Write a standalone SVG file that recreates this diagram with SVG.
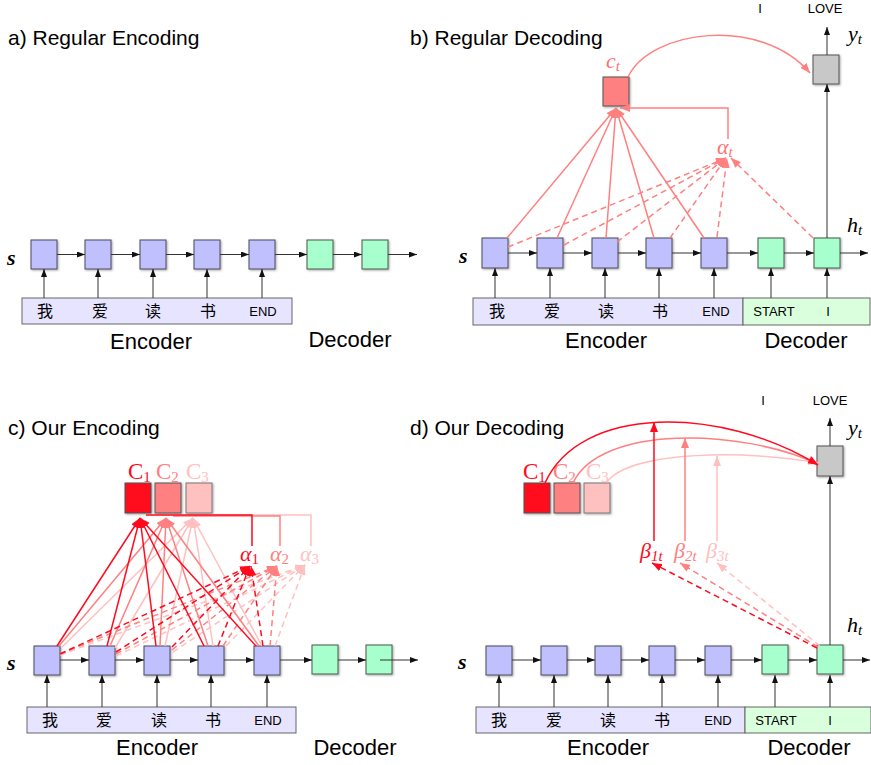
<svg xmlns="http://www.w3.org/2000/svg" width="871" height="765" viewBox="0 0 871 765">
<defs>
<style>
.t{font-family:"Liberation Sans",Arial,sans-serif;fill:#000}
.title{font-size:21px}
.lab{font-size:22px;text-anchor:middle}
.zh{font-family:"Noto Sans CJK SC","Liberation Sans",sans-serif;font-size:16px;text-anchor:middle;fill:#000}
.sm{font-family:"Liberation Sans",Arial,sans-serif;font-size:13px;text-anchor:middle;fill:#000}
.m{font-family:"Liberation Serif","DejaVu Serif",serif;font-style:italic}
.mu{font-family:"Liberation Serif","DejaVu Serif",serif}
.enc{fill:#c0c0ff;stroke:#4a4a5a;stroke-width:1;filter:url(#sh)}
.dec{fill:#a6ffcc;stroke:#4a5a4a;stroke-width:1;filter:url(#sh)}
.gry{fill:#c8c8c8;stroke:#555;stroke-width:1;filter:url(#sh)}
.bar{fill:#e6e4ff;stroke:#666;stroke-width:1}
.gbar{fill:#d9ffdc;stroke:#666;stroke-width:1}
.k{stroke:#333;stroke-width:1;fill:none;marker-end:url(#ak)}
.r1{stroke:#ff0a1e;stroke-width:1.5;fill:none;marker-end:url(#a1)}
.r2{stroke:#ff8080;stroke-width:1.5;fill:none;marker-end:url(#a2)}
.r3{stroke:#ffc0c0;stroke-width:1.5;fill:none;marker-end:url(#a3)}
.n1{stroke:#ff0a1e;stroke-width:1.5;fill:none}
.n2{stroke:#ff8080;stroke-width:1.5;fill:none}
.n3{stroke:#ffc0c0;stroke-width:1.5;fill:none}
.d{stroke-dasharray:6,4}
</style>
<filter id="sh" x="-20%" y="-20%" width="150%" height="150%">
<feDropShadow dx="1" dy="1" stdDeviation="0.8" flood-color="#000" flood-opacity="0.35"/>
</filter>
<marker id="ak" markerUnits="userSpaceOnUse" markerWidth="8" markerHeight="6" refX="8" refY="3" orient="auto"><path d="M0,0 L8,3 L0,6 z" fill="#111"/></marker>
<marker id="a1" markerUnits="userSpaceOnUse" markerWidth="10" markerHeight="8" refX="10" refY="4" orient="auto"><path d="M0,0 L10,4 L0,8 z" fill="#ff0a1e"/></marker>
<marker id="a2" markerUnits="userSpaceOnUse" markerWidth="10" markerHeight="8" refX="10" refY="4" orient="auto"><path d="M0,0 L10,4 L0,8 z" fill="#ff8080"/></marker>
<marker id="a3" markerUnits="userSpaceOnUse" markerWidth="10" markerHeight="8" refX="10" refY="4" orient="auto"><path d="M0,0 L10,4 L0,8 z" fill="#ffc0c0"/></marker>
</defs>
<rect width="871" height="765" fill="#fff"/>

<!-- ============ Panel a ============ -->
<g id="panel-a">
<text class="t title" x="8" y="45">a) Regular Encoding</text>
<text class="m" x="7" y="265" font-size="22" font-weight="bold">s</text>
<g id="a-input"><rect class="bar" x="22" y="298" width="270" height="26"/>
<text class="zh" x="45" y="317">我</text><text class="zh" x="100" y="317">爱</text><text class="zh" x="153" y="317">读</text><text class="zh" x="208" y="317">书</text><text class="sm" x="263" y="316">END</text></g>
<g id="a-e1"><rect class="enc" x="31" y="240" width="26" height="29"/></g>
<g id="a-e2"><rect class="enc" x="85" y="240" width="26" height="29"/></g>
<g id="a-e3"><rect class="enc" x="140" y="240" width="26" height="29"/></g>
<g id="a-e4"><rect class="enc" x="194" y="240" width="26" height="29"/></g>
<g id="a-e5"><rect class="enc" x="249" y="240" width="26" height="29"/></g>
<g id="a-d1"><rect class="dec" x="307" y="240" width="26" height="29"/></g>
<g id="a-d2"><rect class="dec" x="362" y="240" width="26" height="29"/></g>
<text class="t lab" x="151" y="349">Encoder</text>
<text class="t lab" x="350" y="347">Decoder</text>
</g>
<g id="a-connectors">
<line class="k" x1="57" y1="254.5" x2="85" y2="254.5"/>
<line class="k" x1="111" y1="254.5" x2="140" y2="254.5"/>
<line class="k" x1="166" y1="254.5" x2="194" y2="254.5"/>
<line class="k" x1="220" y1="254.5" x2="249" y2="254.5"/>
<line class="k" x1="275" y1="254.5" x2="307" y2="254.5"/>
<line class="k" x1="333" y1="254.5" x2="362" y2="254.5"/>
<line class="k" x1="388" y1="254.5" x2="417" y2="254.5"/>
<line class="k" x1="44" y1="298" x2="44" y2="269"/>
<line class="k" x1="98" y1="298" x2="98" y2="269"/>
<line class="k" x1="153" y1="298" x2="153" y2="269"/>
<line class="k" x1="207" y1="298" x2="207" y2="269"/>
<line class="k" x1="262" y1="298" x2="262" y2="269"/>
</g>

<!-- ============ Panel b ============ -->
<g id="panel-b">
<text class="t title" x="410" y="45">b) Regular Decoding</text>
<text class="m" x="459" y="263" font-size="22" font-weight="bold">s</text>
<text class="sm" x="760" y="13">I</text><text class="sm" x="825" y="13">LOVE</text>
<text class="m" x="848" y="41" font-size="22">y<tspan font-size="15" dy="3">t</tspan></text>
<text class="m" x="847" y="232" font-size="22">h<tspan font-size="15" dy="3">t</tspan></text>
<g id="b-input"><rect class="bar" x="473" y="298" width="270" height="27"/><rect class="gbar" x="743" y="298" width="127" height="27"/>
<text class="zh" x="497" y="317">我</text><text class="zh" x="552" y="317">爱</text><text class="zh" x="606" y="317">读</text><text class="zh" x="660" y="317">书</text><text class="sm" x="716" y="316">END</text><text class="sm" x="774" y="316">START</text><text class="sm" x="828" y="316">I</text></g>
<g id="b-e1"><rect class="enc" x="482" y="238" width="26" height="30"/></g>
<g id="b-e2"><rect class="enc" x="537" y="238" width="26" height="30"/></g>
<g id="b-e3"><rect class="enc" x="592" y="238" width="26" height="30"/></g>
<g id="b-e4"><rect class="enc" x="646" y="238" width="26" height="30"/></g>
<g id="b-e5"><rect class="enc" x="701" y="238" width="26" height="30"/></g>
<g id="b-d1"><rect class="dec" x="758" y="238" width="26" height="30"/></g>
<g id="b-d2"><rect class="dec" x="814" y="238" width="26" height="30"/></g>
<g id="b-ct"><rect x="603" y="77" width="26" height="29" fill="#ff8080" stroke="#555" filter="url(#sh)"/>
<text class="m" x="606" y="68" font-size="22" fill="#ff7070">c<tspan font-size="15" dy="3">t</tspan></text></g>
<g id="b-at"><text class="m" x="717" y="154" font-size="22" fill="#ff7070">α<tspan font-size="15" dy="3">t</tspan></text></g>
<g id="b-y"><rect class="gry" x="813" y="55" width="26" height="29"/></g>
<text class="t lab" x="606" y="348">Encoder</text>
<text class="t lab" x="806" y="348">Decoder</text>
</g>
<g id="b-connectors">
<line class="k" x1="508" y1="253" x2="537" y2="253"/>
<line class="k" x1="563" y1="253" x2="592" y2="253"/>
<line class="k" x1="618" y1="253" x2="646" y2="253"/>
<line class="k" x1="672" y1="253" x2="701" y2="253"/>
<line class="k" x1="727" y1="253" x2="758" y2="253"/>
<line class="k" x1="784" y1="253" x2="814" y2="253"/>
<line class="k" x1="840" y1="253" x2="868" y2="253"/>
<line class="k" x1="495" y1="298" x2="495" y2="268"/>
<line class="k" x1="550" y1="298" x2="550" y2="268"/>
<line class="k" x1="605" y1="298" x2="605" y2="268"/>
<line class="k" x1="659" y1="298" x2="659" y2="268"/>
<line class="k" x1="714" y1="298" x2="714" y2="268"/>
<line class="k" x1="771" y1="298" x2="771" y2="268"/>
<line class="k" x1="827" y1="298" x2="827" y2="268"/>
<line class="k" x1="827" y1="238" x2="827" y2="84"/>
<line class="k" x1="827" y1="55" x2="827" y2="27"/>
<line class="r2" x1="507" y1="238" x2="616" y2="108"/>
<line class="r2" x1="557" y1="238" x2="616" y2="108"/>
<line class="r2" x1="606" y1="238" x2="616" y2="108"/>
<line class="r2" x1="654" y1="238" x2="616" y2="108"/>
<line class="r2" x1="704" y1="238" x2="616" y2="108"/>
<line class="r2 d" x1="508" y1="247" x2="726" y2="158"/>
<line class="r2 d" x1="564" y1="245" x2="726" y2="158"/>
<line class="r2 d" x1="617" y1="242" x2="726" y2="158"/>
<line class="r2 d" x1="670" y1="238" x2="726" y2="158"/>
<line class="r2 d" x1="717" y1="237" x2="727" y2="158"/>
<line class="r2 d" x1="813" y1="238" x2="731" y2="158"/>
<polyline class="r2" points="728,139 728,108 620,108"/>
<path class="r2" d="M628,77 C650,30 760,15 810,73"/>
</g>

<!-- ============ Panel c ============ -->
<g id="panel-c">
<text class="t title" x="8" y="435">c) Our Encoding</text>
<text class="m" x="7" y="670" font-size="22" font-weight="bold">s</text>
<g id="c-input"><rect class="bar" x="27" y="707" width="269" height="26"/>
<text class="zh" x="50" y="726">我</text><text class="zh" x="104" y="726">爱</text><text class="zh" x="159" y="726">读</text><text class="zh" x="213" y="726">书</text><text class="sm" x="268" y="725">END</text></g>
<g id="c-e1"><rect class="enc" x="34" y="646" width="26" height="29"/></g>
<g id="c-e2"><rect class="enc" x="89" y="646" width="26" height="29"/></g>
<g id="c-e3"><rect class="enc" x="144" y="646" width="26" height="29"/></g>
<g id="c-e4"><rect class="enc" x="198" y="646" width="26" height="29"/></g>
<g id="c-e5"><rect class="enc" x="254" y="646" width="26" height="29"/></g>
<g id="c-d1"><rect class="dec" x="312" y="645" width="26" height="29"/></g>
<g id="c-d2"><rect class="dec" x="366" y="645" width="26" height="29"/></g>
<g id="c-C1"><rect x="125" y="483" width="26" height="30" fill="#ff0a1e" stroke="#555" filter="url(#sh)"/><text class="mu" x="128" y="479" font-size="23" fill="#ff0a1e">C<tspan font-size="15" dy="3">1</tspan></text></g>
<g id="c-C2"><rect x="155" y="483" width="26" height="30" fill="#ff8080" stroke="#555" filter="url(#sh)"/><text class="mu" x="156" y="479" font-size="23" fill="#ff8080">C<tspan font-size="15" dy="3">2</tspan></text></g>
<g id="c-C3"><rect x="186" y="483" width="26" height="30" fill="#ffc0c0" stroke="#777" filter="url(#sh)"/><text class="mu" x="186" y="479" font-size="23" fill="#ffc0c0">C<tspan font-size="15" dy="3">3</tspan></text></g>
<g id="c-a1"><text class="m" x="240" y="561" font-size="22" fill="#ff0a1e">α<tspan class="mu" font-style="normal" font-size="15" dy="3">1</tspan></text></g>
<g id="c-a2"><text class="m" x="270" y="561" font-size="22" fill="#ff8080">α<tspan class="mu" font-style="normal" font-size="15" dy="3">2</tspan></text></g>
<g id="c-a3"><text class="m" x="300" y="561" font-size="22" fill="#ffc0c0">α<tspan class="mu" font-style="normal" font-size="15" dy="3">3</tspan></text></g>
<text class="t lab" x="157" y="755">Encoder</text>
<text class="t lab" x="355" y="755">Decoder</text>
</g>
<g id="c-connectors">
<line class="k" x1="60" y1="660" x2="89" y2="660"/>
<line class="k" x1="115" y1="660" x2="144" y2="660"/>
<line class="k" x1="170" y1="660" x2="198" y2="660"/>
<line class="k" x1="224" y1="660" x2="254" y2="660"/>
<line class="k" x1="280" y1="660" x2="312" y2="660"/>
<line class="k" x1="338" y1="660" x2="366" y2="660"/>
<line class="k" x1="380" y1="660" x2="418" y2="660"/>
<line class="k" x1="47" y1="707" x2="47" y2="675"/>
<line class="k" x1="102" y1="707" x2="102" y2="675"/>
<line class="k" x1="157" y1="707" x2="157" y2="675"/>
<line class="k" x1="211" y1="707" x2="211" y2="675"/>
<line class="k" x1="267" y1="707" x2="267" y2="675"/>
<!-- C3 / alpha3 -->
<polyline class="n3" points="311,546 311,515 200,515"/>
<line class="r3" x1="62" y1="647" x2="193" y2="518"/>
<line class="r3" x1="115" y1="648" x2="193" y2="518"/>
<line class="r3" x1="165" y1="646" x2="193" y2="518"/>
<line class="r3" x1="213" y1="646" x2="193" y2="518"/>
<line class="r3" x1="262" y1="646" x2="193" y2="518"/>
<line class="r3 d" x1="60" y1="655" x2="305" y2="565"/>
<line class="r3 d" x1="116" y1="656" x2="305" y2="565"/>
<line class="r3 d" x1="173" y1="652" x2="305" y2="565"/>
<line class="r3 d" x1="226" y1="646" x2="305" y2="565"/>
<line class="r3 d" x1="275" y1="646" x2="305" y2="565"/>
<!-- C2 / alpha2 -->
<polyline class="n2" points="280,546 280,516 173,516"/>
<line class="r2" x1="59" y1="646" x2="166" y2="518"/>
<line class="r2" x1="110" y1="646" x2="166" y2="518"/>
<line class="r2" x1="160" y1="646" x2="166" y2="518"/>
<line class="r2" x1="208" y1="646" x2="166" y2="518"/>
<line class="r2" x1="259" y1="646" x2="166" y2="518"/>
<line class="r2 d" x1="60" y1="654" x2="277" y2="566"/>
<line class="r2 d" x1="116" y1="654" x2="277" y2="566"/>
<line class="r2 d" x1="172" y1="650" x2="277" y2="566"/>
<line class="r2 d" x1="223" y1="646" x2="277" y2="566"/>
<line class="r2 d" x1="270" y1="646" x2="277" y2="566"/>
<!-- C1 / alpha1 -->
<polyline class="n1" points="252,546 252,515 146,515"/>
<line class="r1" x1="57" y1="646" x2="140" y2="518"/>
<line class="r1" x1="107" y1="646" x2="140" y2="518"/>
<line class="r1" x1="156" y1="646" x2="140" y2="518"/>
<line class="r1" x1="204" y1="646" x2="140" y2="518"/>
<line class="r1" x1="256" y1="646" x2="140" y2="518"/>
<line class="r1 d" x1="60" y1="654" x2="250" y2="566"/>
<line class="r1 d" x1="116" y1="652" x2="250" y2="566"/>
<line class="r1 d" x1="172" y1="647" x2="250" y2="566"/>
<line class="r1 d" x1="218" y1="646" x2="250" y2="566"/>
<line class="r1 d" x1="263" y1="646" x2="251" y2="566"/>
</g>

<!-- ============ Panel d ============ -->
<g id="panel-d">
<text class="t title" x="410" y="435">d) Our Decoding</text>
<text class="m" x="458" y="669" font-size="22" font-weight="bold">s</text>
<text class="sm" x="763" y="405">I</text><text class="sm" x="830" y="405">LOVE</text>
<text class="m" x="848" y="435" font-size="22">y<tspan font-size="15" dy="3">t</tspan></text>
<text class="m" x="847" y="632" font-size="22">h<tspan font-size="15" dy="3">t</tspan></text>
<g id="d-input"><rect class="bar" x="476" y="707" width="269" height="26"/><rect class="gbar" x="745" y="707" width="126" height="26"/>
<text class="zh" x="499" y="726">我</text><text class="zh" x="554" y="726">爱</text><text class="zh" x="608" y="726">读</text><text class="zh" x="662" y="726">书</text><text class="sm" x="718" y="725">END</text><text class="sm" x="776" y="725">START</text><text class="sm" x="830" y="725">I</text></g>
<g id="d-e1"><rect class="enc" x="486" y="646" width="26" height="29"/></g>
<g id="d-e2"><rect class="enc" x="541" y="646" width="26" height="29"/></g>
<g id="d-e3"><rect class="enc" x="595" y="646" width="26" height="29"/></g>
<g id="d-e4"><rect class="enc" x="649" y="646" width="26" height="29"/></g>
<g id="d-e5"><rect class="enc" x="705" y="646" width="26" height="29"/></g>
<g id="d-d1"><rect class="dec" x="762" y="645" width="26" height="29"/></g>
<g id="d-d2"><rect class="dec" x="817" y="645" width="26" height="29"/></g>
<g id="d-y"><rect class="gry" x="817" y="446" width="26" height="30"/></g>
<g id="d-C1"><rect x="524" y="483" width="26" height="30" fill="#ff0a1e" stroke="#555" filter="url(#sh)"/><text class="mu" x="523" y="479" font-size="23" fill="#ff0a1e">C<tspan font-size="15" dy="3">1</tspan></text></g>
<g id="d-C2"><rect x="554" y="483" width="26" height="30" fill="#ff8080" stroke="#555" filter="url(#sh)"/><text class="mu" x="553" y="479" font-size="23" fill="#ff8080">C<tspan font-size="15" dy="3">2</tspan></text></g>
<g id="d-C3"><rect x="584" y="483" width="26" height="30" fill="#ffc0c0" stroke="#777" filter="url(#sh)"/><text class="mu" x="586" y="479" font-size="23" fill="#ffc0c0">C<tspan font-size="15" dy="3">3</tspan></text></g>
<g id="d-b1"><text class="m" x="640" y="558" font-size="22" fill="#ff0a1e">β<tspan font-size="15" dy="3">1t</tspan></text></g>
<g id="d-b2"><text class="m" x="674" y="558" font-size="22" fill="#ff8080">β<tspan font-size="15" dy="3">2t</tspan></text></g>
<g id="d-b3"><text class="m" x="706" y="558" font-size="22" fill="#ffc0c0">β<tspan font-size="15" dy="3">3t</tspan></text></g>
<text class="t lab" x="608" y="755">Encoder</text>
<text class="t lab" x="809" y="755">Decoder</text>
</g>
<g id="d-connectors">
<line class="k" x1="512" y1="660" x2="541" y2="660"/>
<line class="k" x1="567" y1="660" x2="595" y2="660"/>
<line class="k" x1="621" y1="660" x2="649" y2="660"/>
<line class="k" x1="675" y1="660" x2="705" y2="660"/>
<line class="k" x1="731" y1="660" x2="762" y2="660"/>
<line class="k" x1="788" y1="660" x2="817" y2="660"/>
<line class="k" x1="843" y1="660" x2="870" y2="660"/>
<line class="k" x1="499" y1="707" x2="499" y2="675"/>
<line class="k" x1="554" y1="707" x2="554" y2="675"/>
<line class="k" x1="608" y1="707" x2="608" y2="675"/>
<line class="k" x1="662" y1="707" x2="662" y2="675"/>
<line class="k" x1="718" y1="707" x2="718" y2="675"/>
<line class="k" x1="775" y1="707" x2="775" y2="675"/>
<line class="k" x1="830" y1="707" x2="830" y2="675"/>
<line class="k" x1="830" y1="645" x2="830" y2="476"/>
<line class="k" x1="830" y1="446" x2="830" y2="418"/>
<path class="r3" d="M607,482 C630,450 750,450 818,463"/>
<path class="r2" d="M573,483 C600,425 740,428 818,464"/>
<path class="r1" d="M545,483 C580,405 720,405 818,465"/>
<line class="r3" x1="717" y1="541" x2="717" y2="456"/>
<line class="r2" x1="685" y1="541" x2="685" y2="438"/>
<line class="r1" x1="654" y1="541" x2="654" y2="422"/>
<line class="r3 d" x1="820" y1="646" x2="717" y2="563"/>
<line class="r2 d" x1="818" y1="647" x2="680" y2="563"/>
<line class="r1 d" x1="817" y1="648" x2="652" y2="563"/>
</g>
</svg>
